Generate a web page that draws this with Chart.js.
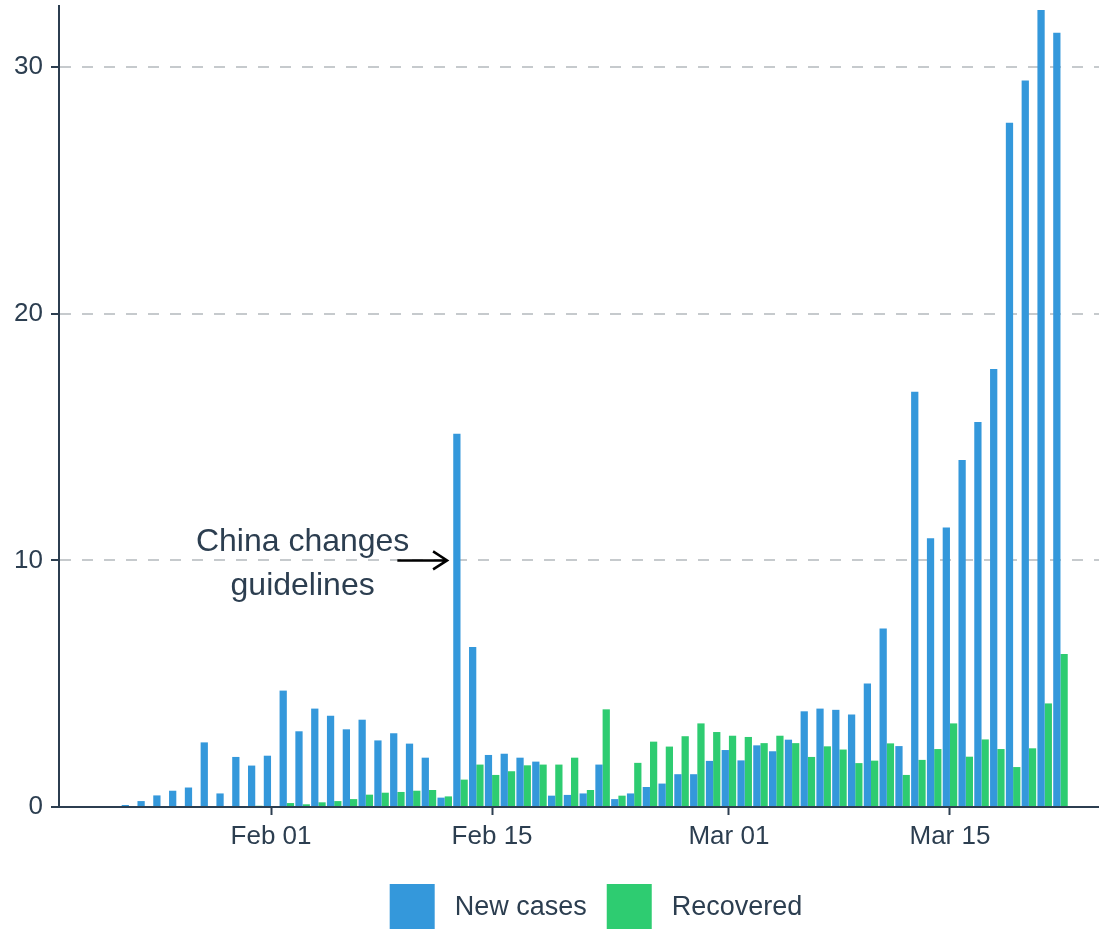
<!DOCTYPE html>
<html>
<head>
<meta charset="utf-8">
<script src="https://cdn.jsdelivr.net/npm/chart.js@4.4.1/dist/chart.umd.min.js"></script>
<style>
  html, body { margin: 0; padding: 0; background: #fff; }
  canvas { display: block; }
</style>
</head>
<body>
<canvas id="casesChart" width="1099" height="930"></canvas>
<script>
// daily values, Jan 22 .. Mar 22
const firstDate = '2020-01-22';
const newCases = [
    0, 0.08, 0.24, 0.47, 0.66, 0.79, 2.62, 0.55, 2.03, 1.68,
    2.08, 4.72, 3.07, 3.99, 3.70, 3.15, 3.54, 2.70, 2.99, 2.57,
    2.00, 0.38, 15.13, 6.49, 2.11, 2.16, 2.00, 1.84, 0.46, 0.49,
    0.55, 1.72, 0.32, 0.55, 0.81, 0.95, 1.33, 1.33, 1.87,
    2.31, 1.89, 2.50, 2.26, 2.73, 3.88, 3.99, 3.94, 3.75, 5.01,
    7.24, 2.47, 16.84, 10.90, 11.33, 14.07, 15.61, 17.76, 27.75, 29.46,
    32.32, 31.40
];
const recovered = [
    0, 0, 0, 0, 0, 0, 0, 0, 0, 0.05,
    0, 0.16, 0.11, 0.19, 0.24, 0.32, 0.50, 0.58, 0.61, 0.66,
    0.69, 0.43, 1.11, 1.72, 1.30, 1.45, 1.69, 1.72, 1.72, 2.00,
    0.69, 3.96, 0.46, 1.79, 2.65, 2.45, 2.87, 3.39, 3.04,
    2.89, 2.84, 2.59, 2.89, 2.59, 2.03, 2.46, 2.33, 1.78, 1.88,
    2.58, 1.30, 1.91, 2.35, 3.39, 2.04, 2.74, 2.35, 1.62, 2.38,
    4.20, 6.20
];
const seriesLabels = ['New cases', 'Recovered'];
const seriesColors = ['#3498db', '#2ecc71'];
const tickDates = ['2020-02-01', '2020-02-15', '2020-03-01', '2020-03-15'];
const tickLabels = ['Feb 01', 'Feb 15', 'Mar 01', 'Mar 15'];
const yTicks = [0, 10, 20, 30];
const noteLines = ['China changes', 'guidelines'];
const noteDate = '2020-02-03';
const noteValue = 10;
const arrowFromDate = '2020-02-09';
const arrowToDay = 11.15;

const textColor = '#2c3e50';
const axisColor = '#2c3e50';
const gridColor = '#c6cacd';
const fontFamily = '"Liberation Sans", Arial, Helvetica, sans-serif';

// days counted from Feb 01
const dayNumber = s => {
    const [y, m, d] = s.split('-').map(Number);
    return (Date.UTC(y, m - 1, d) - Date.UTC(2020, 1, 1)) / 86400000;
};
const startDay = dayNumber(firstDate);
const toPoints = arr => arr.map((v, i) => ({ x: startDay + i, y: v }));
const tickDays = tickDates.map(dayNumber);

const noteAndArrow = {
    id: 'noteAndArrow',
    afterDatasetsDraw(chart) {
        const { ctx, scales: { x, y } } = chart;
        const tx = x.getPixelForValue(dayNumber(noteDate));
        const ty = y.getPixelForValue(noteValue);
        ctx.save();
        ctx.fillStyle = textColor;
        ctx.font = '32px ' + fontFamily;
        ctx.textAlign = 'center';
        ctx.textBaseline = 'middle';
        ctx.fillText(noteLines[0], tx, ty - 18);
        ctx.fillText(noteLines[1], tx, ty + 26);
        const x0 = x.getPixelForValue(dayNumber(arrowFromDate));
        const x1 = x.getPixelForValue(arrowToDay);
        ctx.strokeStyle = '#000';
        ctx.lineWidth = 2.5;
        ctx.beginPath();
        ctx.moveTo(x0, ty);
        ctx.lineTo(x1, ty);
        ctx.moveTo(x1 - 14, ty - 9);
        ctx.lineTo(x1, ty);
        ctx.lineTo(x1 - 14, ty + 9);
        ctx.stroke();
        ctx.restore();
    }
};

const bottomLegend = {
    id: 'bottomLegend',
    afterDraw(chart) {
        const ctx = chart.ctx;
        const box = 45, gap = 20, centerX = 596, top = 884;
        ctx.save();
        ctx.font = '27px ' + fontFamily;
        const widths = seriesLabels.map(t => ctx.measureText(t).width);
        let total = gap * (seriesLabels.length - 1);
        widths.forEach(w => { total += box + gap + w; });
        let cx = centerX - total / 2;
        seriesLabels.forEach((label, i) => {
            ctx.fillStyle = seriesColors[i];
            ctx.fillRect(cx, top, box, box);
            ctx.fillStyle = textColor;
            ctx.textAlign = 'left';
            ctx.textBaseline = 'middle';
            ctx.fillText(label, cx + box + gap, top + box / 2 + 1);
            cx += box + gap + widths[i] + gap;
        });
        ctx.restore();
    }
};

new Chart(document.getElementById('casesChart').getContext('2d'), {
    type: 'bar',
    data: {
        datasets: [
            { label: seriesLabels[0], data: toPoints(newCases), backgroundColor: seriesColors[0] },
            { label: seriesLabels[1], data: toPoints(recovered), backgroundColor: seriesColors[1] }
        ]
    },
    options: {
        responsive: false,
        animation: false,
        layout: { padding: { top: 6, left: 0, right: 0, bottom: 0 } },
        datasets: { bar: { categoryPercentage: 0.92, barPercentage: 1.0, borderWidth: 0 } },
        scales: {
            x: {
                type: 'linear',
                offset: false,
                min: -13.43,
                max: 52.44,
                afterBuildTicks: scale => { scale.ticks = tickDays.map(v => ({ value: v })); },
                afterFit: scale => {
                    scale.height = 123;
                    scale.paddingLeft = 0;
                    scale.paddingRight = 0;
                },
                ticks: {
                    callback: v => tickLabels[tickDays.indexOf(v)],
                    color: textColor,
                    font: { family: fontFamily, size: 26 },
                    padding: 6,
                    maxRotation: 0
                },
                grid: {
                    offset: false,
                    drawOnChartArea: false,
                    drawTicks: true,
                    tickLength: 8,
                    tickWidth: 2,
                    tickColor: axisColor
                },
                border: { display: true, color: axisColor, width: 2 }
            },
            y: {
                min: 0,
                max: 32.48,
                afterBuildTicks: scale => { scale.ticks = yTicks.map(v => ({ value: v })); },
                afterFit: scale => {
                    scale.width = 59;
                    scale.paddingTop = 0;
                    scale.paddingBottom = 0;
                },
                ticks: {
                    color: textColor,
                    font: { family: fontFamily, size: 26 },
                    padding: 8
                },
                grid: {
                    color: ctx => ctx.tick && ctx.tick.value === 0 ? 'rgba(0,0,0,0)' : gridColor,
                    lineWidth: 2,
                    tickLength: 8,
                    tickWidth: 2,
                    tickColor: axisColor
                },
                border: { display: true, color: axisColor, width: 2, dash: [11, 11] }
            }
        },
        plugins: {
            legend: { display: false },
            tooltip: { enabled: false }
        }
    },
    plugins: [noteAndArrow, bottomLegend]
});
</script>
</body>
</html>
